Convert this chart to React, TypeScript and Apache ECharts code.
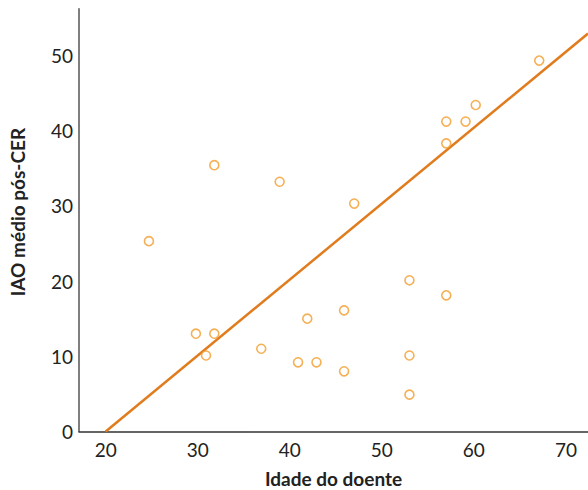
import React, { useEffect, useRef } from "react";
import * as echarts from "echarts";

const ages = [24.7, 29.8, 31.8, 30.9, 31.8, 36.9, 38.9, 40.9, 41.9, 42.9, 45.9, 45.9, 47.0, 53.0, 53.0, 53.0, 57.0, 57.0, 57.0, 59.1, 60.2, 67.1];
const iaoValues = [25.3, 13.0, 13.0, 10.1, 35.4, 11.0, 33.2, 9.2, 15.0, 9.2, 16.1, 8.0, 30.3, 20.1, 10.1, 4.9, 18.1, 38.3, 41.2, 41.2, 43.4, 49.3];
const fitX = [20, 72.4];
const fitY = [0, 52.9];
const xTicks = [20, 30, 40, 50, 60, 70];

export default function App() {
  const ref = useRef<HTMLDivElement>(null);
  useEffect(() => {
    if (!ref.current) return;
    const chart = echarts.init(ref.current, null, { renderer: "svg" });
    const font = "Lato, 'Open Sans', sans-serif";
    chart.setOption({
      animation: false,
      grid: { left: 79, right: 0, top: 8.7, bottom: 58.5, containLabel: false, outerBoundsMode: "none" },
      xAxis: {
        type: "value",
        min: 17.1,
        max: 72.4,
        name: "Idade do doente",
        nameLocation: "middle",
        nameGap: 37,
        nameTextStyle: { fontFamily: font, fontWeight: "bold", fontSize: 19, color: "#222" },
        axisLine: { show: true, onZero: false, lineStyle: { color: "#333", width: 1.5 } },
        axisTick: { show: false },
        splitLine: { show: false },
        axisLabel: {
          customValues: xTicks,
          fontFamily: font,
          fontSize: 19,
          color: "#222",
          margin: 8,
        },
      },
      yAxis: {
        type: "value",
        min: 0,
        max: 56.2,
        interval: 10,
        name: "IAO médio pós-CER",
        nameLocation: "middle",
        nameGap: 52,
        nameTextStyle: { fontFamily: font, fontWeight: "bold", fontSize: 19, color: "#222", padding: [0, 0, 0, 16] },
        axisLine: { show: true, lineStyle: { color: "#555", width: 1.5 } },
        axisTick: { show: false },
        splitLine: { show: false },
        axisLabel: {
          fontFamily: font,
          fontSize: 19,
          color: "#222",
          margin: 6,
          showMaxLabel: false,
        },
      },
      series: [
        {
          type: "line",
          data: fitX.map((x, i) => [x, fitY[i]]),
          symbol: "none",
          lineStyle: { color: "#E07C1E", width: 2.5 },
          z: 2,
        },
        {
          type: "scatter",
          data: ages.map((x, i) => [x, iaoValues[i]]),
          symbol: "circle",
          symbolSize: 9,
          itemStyle: { color: "#fff", borderColor: "#F39C2B", borderWidth: 1.6 },
          z: 3,
        },
      ],
    });
    return () => chart.dispose();
  }, []);
  return <div ref={ref} style={{ width: 588, height: 490, position: "absolute", left: 0, top: 0 }} />;
}
